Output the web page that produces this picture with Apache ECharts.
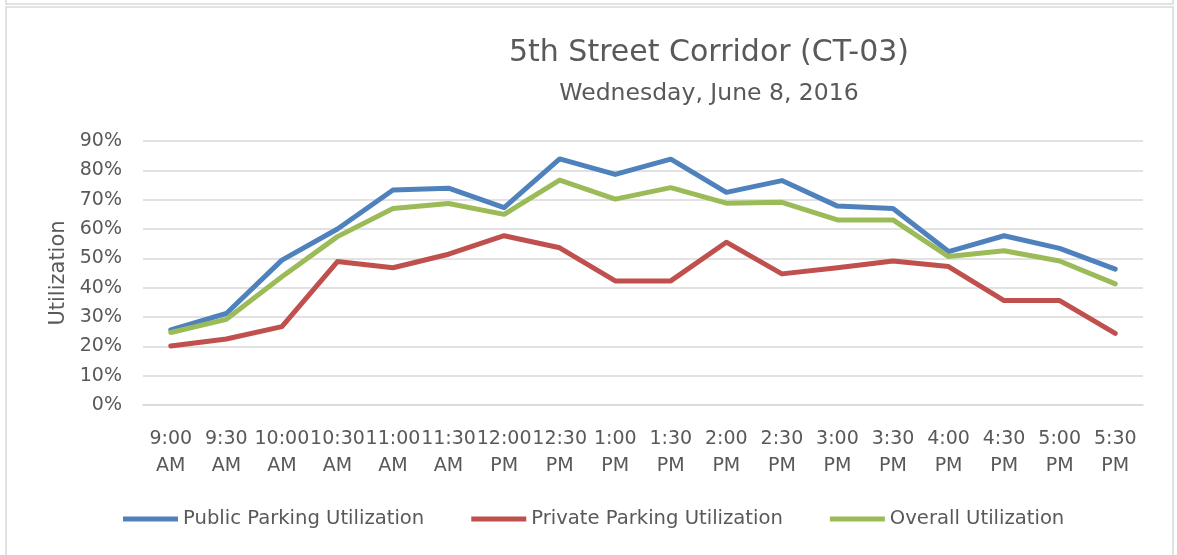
<!DOCTYPE html>
<html>
<head>
<meta charset="utf-8">
<script src="https://cdn.jsdelivr.net/npm/echarts@6/dist/echarts.min.js"></script>
<style>
  html, body { margin: 0; padding: 0; background: #fff; }
  #main { width: 1177px; height: 555px; }
</style>
</head>
<body>
<div id="main"></div>
<script>
// time slots (two-line labels like the original)
const times = ['9:00\nAM', '9:30\nAM', '10:00\nAM', '10:30\nAM', '11:00\nAM', '11:30\nAM',
  '12:00\nPM', '12:30\nPM', '1:00\nPM', '1:30\nPM', '2:00\nPM', '2:30\nPM',
  '3:00\nPM', '3:30\nPM', '4:00\nPM', '4:30\nPM', '5:00\nPM', '5:30\nPM'];

// utilization in percent
const publicUtil = [25.6, 31.2, 49.4, 60.0, 73.3, 73.9, 67.3, 83.9, 78.6, 83.8, 72.5, 76.5,
  67.8, 67.0, 52.3, 57.7, 53.4, 46.3];
const privateUtil = [20.1, 22.5, 26.7, 48.9, 46.8, 51.4, 57.7, 53.6, 42.3, 42.3, 55.5, 44.7,
  46.8, 49.1, 47.2, 35.6, 35.6, 24.4];
const overallUtil = [24.7, 29.2, 43.7, 57.4, 67.0, 68.7, 65.0, 76.7, 70.2, 74.1, 68.8, 69.1,
  63.1, 63.1, 50.6, 52.6, 49.1, 41.3];

const txt = '#595959';
const font = 'DejaVu Sans';

let myChart = echarts.init(document.getElementById('main'));

let option = {
  animation: false,
  textStyle: { fontFamily: font, color: txt },
  title: [
    {
      text: '5th Street Corridor (CT-03)',
      left: 704, top: 33, textAlign: 'center',
      textStyle: { fontFamily: font, fontSize: 30, fontWeight: 'normal', color: txt }
    },
    {
      text: 'Wednesday, June 8, 2016',
      left: 704, top: 77, textAlign: 'center',
      textStyle: { fontFamily: font, fontSize: 23.5, fontWeight: 'normal', color: txt }
    }
  ],
  graphic: [
    { type: 'rect', shape: { x: 6, y: -10, width: 1167, height: 14 },
      style: { fill: 'none', stroke: '#d9d9d9', lineWidth: 1.5 } },
    { type: 'rect', shape: { x: 6, y: 7, width: 1167, height: 560 },
      style: { fill: 'none', stroke: '#d9d9d9', lineWidth: 1.5 } }
  ],
  legend: {
    left: 123, top: 509, padding: 0,
    icon: 'rect', itemWidth: 55, itemHeight: 5, itemGap: 47,
    textStyle: { fontFamily: font, fontSize: 19.6, color: txt },
    data: ['Public Parking Utilization', 'Private Parking Utilization', 'Overall Utilization']
  },
  grid: { left: 143, right: 34, top: 141, bottom: 150 },
  xAxis: {
    type: 'category',
    data: times,
    axisLine: { lineStyle: { color: '#d9d9d9', width: 1.5 } },
    axisTick: { show: false },
    axisLabel: { interval: 0, fontFamily: font, fontSize: 19, color: txt, lineHeight: 27, margin: 21 }
  },
  yAxis: {
    type: 'value',
    min: 0, max: 90, interval: 10,
    name: 'Utilization',
    nameLocation: 'middle',
    nameGap: 74,
    nameTextStyle: { fontFamily: font, fontSize: 21, color: txt },
    axisLabel: { formatter: '{value}%', fontFamily: font, fontSize: 19, color: txt, margin: 21 },
    splitLine: { lineStyle: { color: '#d9d9d9', width: 1.5 } }
  },
  series: [
    { name: 'Public Parking Utilization', type: 'line', data: publicUtil, symbol: 'none',
      color: '#4f81bd', lineStyle: { width: 5, cap: 'round', join: 'round' } },
    { name: 'Private Parking Utilization', type: 'line', data: privateUtil, symbol: 'none',
      color: '#c0504d', lineStyle: { width: 5, cap: 'round', join: 'round' } },
    { name: 'Overall Utilization', type: 'line', data: overallUtil, symbol: 'none',
      color: '#9bbb59', lineStyle: { width: 5, cap: 'round', join: 'round' } }
  ]
};
myChart.setOption(option);
</script>
</body>
</html>
